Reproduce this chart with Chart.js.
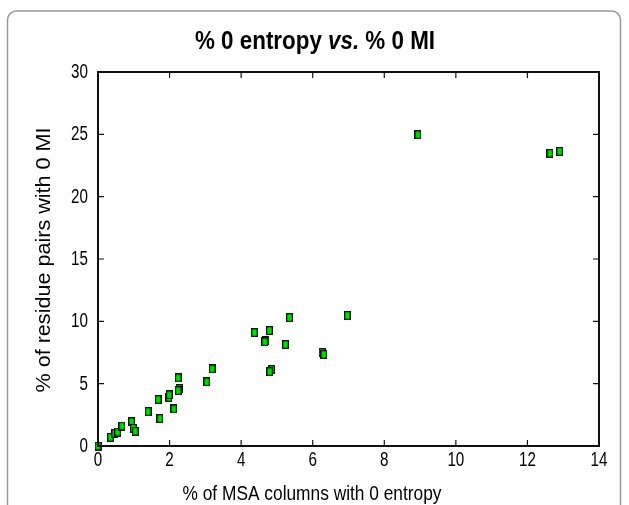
<!DOCTYPE html>
<html>
<head>
<meta charset="utf-8">
<script src="https://cdn.jsdelivr.net/npm/chart.js@4"></script>
<style>
html,body{margin:0;padding:0;background:#fff;}
#wrap{width:629px;height:505px;}
</style>
</head>
<body>
<div id="wrap"><canvas id="c" width="629" height="505"></canvas></div>
<script>

// % of MSA columns with 0 entropy
let xValues = [0, 0.35, 0.47, 0.55, 0.67, 0.94, 0.99, 1.04, 1.40, 1.73, 1.68, 1.98, 1.99, 2.12, 2.24, 2.27, 2.24, 3.04, 3.19,
4.37, 4.79, 4.69, 4.66, 5.35, 5.24, 4.85, 4.80, 6.26, 6.31, 6.97,
8.94, 12.63, 12.90];

// % of residue pairs with 0 MI
let yValues = [0, 0.70, 1.02, 1.12, 1.60, 1.95, 1.42, 1.18, 2.76, 2.20, 3.72, 3.90, 4.10, 2.97, 5.46, 4.60, 4.44, 5.14, 6.18,
9.10, 9.26, 8.46, 8.35, 10.30, 8.14, 6.13, 5.97, 7.50, 7.34, 10.47,
24.96, 23.48, 23.64];

let xTicks = [0,2,4,6,8,10,12,14];
let yTicks = [0,5,10,15,20,25,30];

let titleText = ['% 0 entropy ','vs.',' % 0 MI'];
let xLabel = '% of MSA columns with 0 entropy';
let yLabel = '% of residue pairs with 0 MI';

let fam = '"Liberation Sans", Arial, Helvetica, sans-serif';

/* marker */
let marker = document.createElement('canvas');
marker.width = 7;
marker.height = 9;
let mctx = marker.getContext('2d');
mctx.fillStyle = '#0a1a0a';
mctx.fillRect(0,0,7,9);
mctx.fillStyle = '#00e000';
mctx.fillRect(1.3,1.3,4.4,6.4);

let points = [];
xValues.forEach(function(x,i){
points.push({x:x,y:yValues[i]});
});

// narrow helvetica look: text squeezed along its own direction
function squeezed(ctx,text,x,y,size,sx,align,baseline){
ctx.save();
ctx.font = size+'px '+fam;
ctx.textAlign = align;
ctx.textBaseline = baseline;
ctx.translate(x,y);
ctx.scale(sx,1);
ctx.fillText(text,0,0);
ctx.restore();
}

let decor = {
id:'decor',
beforeDraw:function(chart){
let ctx = chart.ctx;
ctx.save();
ctx.strokeStyle = '#9a9a9a';
ctx.lineWidth = 1.5;
ctx.beginPath();
ctx.roundRect(7.5,11,613,520,9);
ctx.stroke();
ctx.restore();
},
afterDatasetsDraw:function(chart){
let ctx = chart.ctx;
let a = chart.chartArea;
let xs = chart.scales.x;
let ys = chart.scales.y;
ctx.save();
ctx.strokeStyle = '#111';
ctx.lineWidth = 1.2;
xTicks.forEach(function(t){
let px = xs.getPixelForValue(t);
ctx.beginPath();
ctx.moveTo(px,a.bottom);ctx.lineTo(px,a.bottom-6);
ctx.moveTo(px,a.top);ctx.lineTo(px,a.top+6);
ctx.stroke();
});
yTicks.forEach(function(t){
let py = ys.getPixelForValue(t);
ctx.beginPath();
ctx.moveTo(a.left,py);ctx.lineTo(a.left+6,py);
ctx.moveTo(a.right,py);ctx.lineTo(a.right-6,py);
ctx.stroke();
});
ctx.lineWidth = 2;
ctx.strokeRect(a.left,a.top,a.right-a.left,a.bottom-a.top);
ctx.fillStyle = '#000';

/* tick labels */
xTicks.forEach(function(t){
squeezed(ctx,String(t),xs.getPixelForValue(t),a.bottom+14,20,0.76,'center','middle');
});
yTicks.forEach(function(t){
squeezed(ctx,String(t),a.left-10,ys.getPixelForValue(t)+0.5,20,0.76,'right','middle');
});

/* title */
let fB = 'bold 25px '+fam;
let fI = 'italic bold 25px '+fam;
ctx.font = fB;
let w1 = ctx.measureText(titleText[0]).width, w3 = ctx.measureText(titleText[2]).width;
ctx.font = fI;
let w2 = ctx.measureText(titleText[1]).width;
let k = 240/(w1+w2+w3);
ctx.save();
ctx.translate(315-120,42);
ctx.scale(k,1);
ctx.textAlign = 'left';
ctx.textBaseline = 'middle';
ctx.font = fB; ctx.fillText(titleText[0],0,0);
ctx.font = fI; ctx.fillText(titleText[1],w1,0);
ctx.font = fB; ctx.fillText(titleText[2],w1+w2,0);
ctx.restore();

/* axis titles */
ctx.font = '20px '+fam;
let kx = 259/ctx.measureText(xLabel).width;
squeezed(ctx,xLabel,312,494,20,kx,'center','middle');

let ky = 265/ctx.measureText(yLabel).width;
ctx.save();
ctx.translate(44,260);
ctx.rotate(-Math.PI/2);
squeezed(ctx,yLabel,0,0,20,ky,'center','middle');
ctx.restore();

ctx.restore();
}
};

new Chart(document.getElementById('c'),{
type:'scatter',
data:{
datasets:[{
data:points,
pointStyle:marker,
pointRadius:5,
clip:false
}]
},
options:{
responsive:false,
animation:false,
events:[],
layout:{padding:{left:0,top:72,right:30,bottom:0}},
plugins:{
legend:{display:false},
tooltip:{enabled:false},
title:{display:false}
},
scales:{
x:{
type:'linear',
min:0,
max:14,
afterFit:function(s){ s.height = 59; },
grid:{display:false,drawTicks:false},
border:{display:false},
ticks:{display:false,stepSize:2}
},
y:{
type:'linear',
min:0,
max:30,
afterFit:function(s){ s.width = 98; },
grid:{display:false,drawTicks:false},
border:{display:false},
ticks:{display:false,stepSize:5}
}
}
},
plugins:[decor]
});
</script>
</body>
</html>
